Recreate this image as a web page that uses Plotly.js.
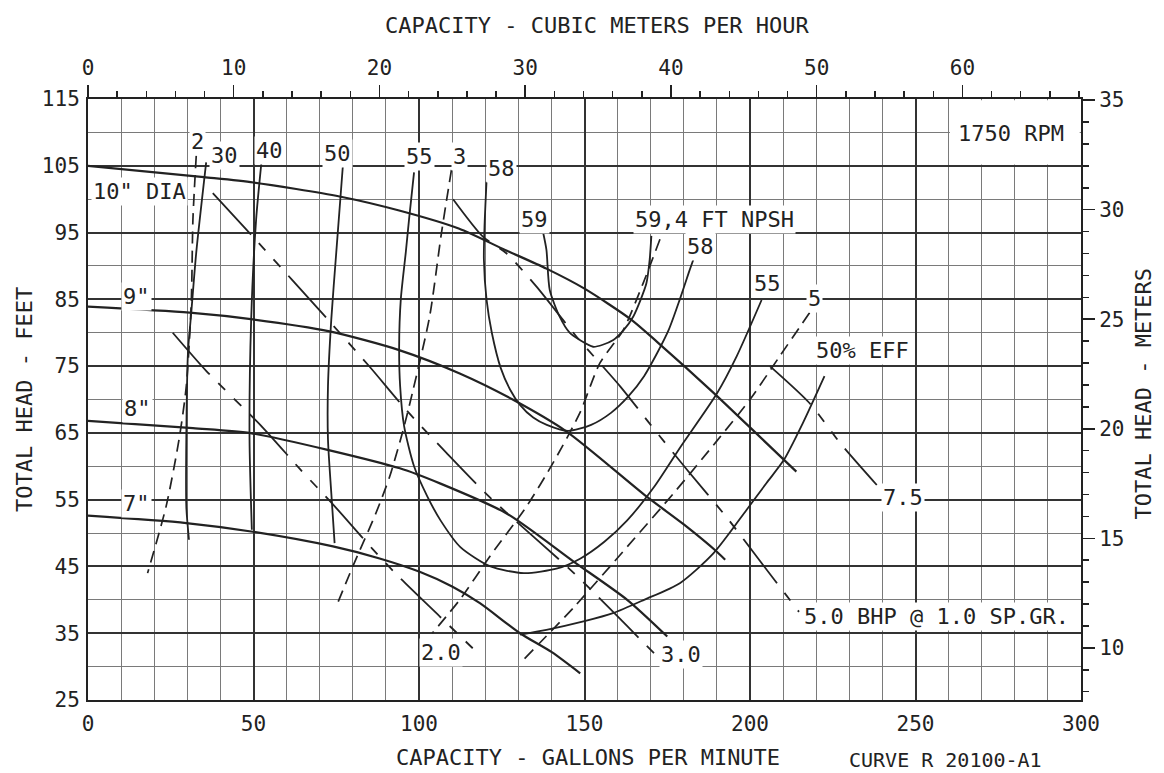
<!DOCTYPE html>
<html>
<head>
<meta charset="utf-8">
<script src="https://cdn.plot.ly/plotly-3.0.1.min.js"></script>
<style>
html,body{margin:0;padding:0;background:#ffffff;}
#chart{width:1164px;height:773px;}
</style>
</head>
<body>
<div id="chart"></div>
<script>
// ---------------- data ----------------
const GPM_TO_M3H = 0.22712;   // 1 US gpm in m3/h
const FT_TO_M = 0.3048;

// Head-capacity curves (impeller diameter)
const dia10_gpm = [0, 35, 50, 76, 94, 112, 126, 138.5, 150, 164, 172, 189, 203, 214];
const dia10_ft  = [105, 103.3, 102.5, 100.4, 98.3, 95.6, 92.4, 89.6, 86.6, 82, 78.6, 71, 64.4, 59.2];
const dia9_gpm  = [0, 30.7, 49.8, 73, 94, 112.3, 128.3, 144.6, 168.7, 180, 190, 192.5];
const dia9_ft   = [83.9, 83, 82, 80.2, 77.4, 73.9, 70, 65.2, 55.5, 51.3, 47.2, 46];
const dia8_gpm  = [0, 31.7, 49.8, 94.2, 106.5, 126.6, 146.8, 162.9, 175];
const dia8_ft   = [66.8, 65.7, 64.9, 59.7, 57.4, 52.9, 45.7, 40, 34.5];
const dia7_gpm  = [0, 29.7, 49.8, 74, 88.1, 100.2, 110, 118.4, 130.5, 140, 148.7];
const dia7_ft   = [52.6, 51.5, 50.2, 48, 46.2, 44.2, 42, 39.5, 35, 32.2, 29];

// Efficiency curves (%)
const eff30_gpm = [35.7, 32.7, 31.2, 30.2, 29.7, 29.7, 30.5];
const eff30_ft  = [105.5, 92, 83, 77, 64, 54, 49];
const eff40_gpm = [52.4, 50.8, 49.3, 48.8, 49.5];
const eff40_ft  = [105.5, 97, 82, 64, 50.5];
const eff50_gpm = [77, 75, 73.5, 72.5, 72.5, 73.5, 74.5];
const eff50_ft  = [105, 92, 82, 72, 64, 56, 48.5];
const eff55_gpm = [98.5, 97, 96, 94.5, 94, 94.3, 95.5, 98.5, 102.5, 106.5, 112.5, 121.6, 131.7, 141.8, 148.8, 156, 162.9, 171, 179, 190, 196, 203.5];
const eff55_ft  = [104, 97, 92, 85, 78, 72, 66, 60, 55.5, 51.9, 47.9, 45, 44, 44.7, 46.2, 48.7, 51.9, 56.9, 62.9, 70.9, 76.5, 84.9];
const eff58_gpm = [120.4, 119.8, 119.6, 120.4, 122, 124.7, 127.5, 130.5, 134.5, 138.6, 145, 152, 158, 163.3, 168, 172, 175.5, 178.8, 181.5, 184];
const eff58_ft  = [102.6, 96, 91, 85, 80, 74.7, 71.5, 69.2, 67.3, 66.2, 65.3, 66.2, 68, 70.5, 73.5, 77, 80.5, 85, 89, 92.5];
const eff59_gpm = [137.5, 138.5, 139.5, 142.5, 145.5, 148.6, 152.6, 155.5, 158.7, 162, 164.7, 167, 168.7, 169.7, 170.2];
const eff59_ft  = [95, 92.4, 86.4, 82.4, 80, 78.9, 77.9, 78.2, 78.9, 80.5, 82.4, 85, 87.4, 91, 94.5];
const effLow50_gpm = [130.5, 138.5, 150, 158.6, 168, 178.8, 189, 199, 205, 210.3, 216, 222.5];
const effLow50_ft  = [34.8, 35.5, 36.8, 38, 40, 42.5, 47, 53.5, 57.5, 61, 66.5, 73.5];

// NPSH required (ft)
const npsh2_gpm = [32.7, 31.7, 31.2, 29.7, 27.5, 23.6, 18];
const npsh2_ft  = [106.5, 97, 84.5, 72, 64, 54, 44];
const npsh3_gpm = [109.8, 106.8, 103.2, 98.2, 95.2, 91.1, 87, 80, 75];
const npsh3_ft  = [104.4, 95, 82.4, 71.4, 65.4, 58.4, 53, 45, 39];
const npsh4_gpm = [172.8, 167.7, 161.7, 154.6, 148.6, 140.5, 132.5, 121.4, 112.3, 104];
const npsh4_ft  = [94, 87.4, 80.4, 75.4, 68, 60.5, 54, 46.5, 40, 35];
const npsh5_gpm = [218, 209, 200, 190, 177, 163, 147, 131.5];
const npsh5_ft  = [83, 76.5, 70, 63.8, 56, 48, 39, 31];

// Brake horsepower lines
const bhp2_gpm  = [25.6, 35.7, 52.8, 64, 74, 86, 94.2, 106.3, 117.8];
const bhp2_ft   = [80, 74.3, 65.8, 59.6, 54.3, 47.6, 43.3, 37.5, 32];
const bhp3_gpm  = [37.7, 49.8, 73.5, 85.1, 96.2, 108.3, 121.5, 146.8, 171];
const bhp3_ft   = [100.9, 94.4, 81.4, 74.9, 68.4, 62, 55.3, 44, 32];
const bhp5_gpm  = [110.3, 119.3, 126.4, 135.5, 147.6, 160.9, 170, 181.1, 193.2, 203.2, 214.8];
const bhp5_ft   = [100, 94.4, 91.9, 86.9, 79.4, 71.9, 66.2, 59.4, 52.2, 45.7, 38.2];
const bhp75_gpm = [206, 218.1, 227.2, 238.3];
const bhp75_ft  = [75, 69.4, 63.5, 57.2];

// Axis tick values
const gpmTicks = [0, 50, 100, 150, 200, 250, 300];
const ftTicks  = [25, 35, 45, 55, 65, 75, 85, 95, 105, 115];
const m3hTicks = [0, 10, 20, 30, 40, 50, 60];
const mTicks   = [10, 15, 20, 25, 30, 35];

// ---------------- styling ----------------
const FONT = "'DejaVu Sans Mono','Liberation Mono',monospace";
const INK = '#222222';
const NPSH_DASH = '12px,7px';
const BHP_DASH = '56px,12px,10px,12px,10px,12px';

function curve(x, y, w, dash, xa, ya) {
  return {
    x: x, y: y, type: 'scatter', mode: 'lines',
    xaxis: xa || 'x', yaxis: ya || 'y',
    line: {color: INK, width: w, dash: dash || 'solid', shape: 'spline', smoothing: 0.7},
    hoverinfo: 'skip', showlegend: false
  };
}

const traces = [
  // 10" curve drawn on the metric axes (converted units) so both unit axes are live
  curve(dia10_gpm.map(v => v * GPM_TO_M3H), dia10_ft.map(v => v * FT_TO_M), 2.2, 'solid', 'x2', 'y2'),
  curve(dia9_gpm, dia9_ft, 2.2),
  curve(dia8_gpm, dia8_ft, 2.2),
  curve(dia7_gpm, dia7_ft, 2.2),
  curve(eff30_gpm, eff30_ft, 1.8),
  curve(eff40_gpm, eff40_ft, 1.8),
  curve(eff50_gpm, eff50_ft, 1.8),
  curve(eff55_gpm, eff55_ft, 1.8),
  curve(eff58_gpm, eff58_ft, 1.8),
  curve(eff59_gpm, eff59_ft, 1.8),
  curve(effLow50_gpm, effLow50_ft, 1.8),
  curve(npsh2_gpm, npsh2_ft, 1.7, NPSH_DASH),
  curve(npsh3_gpm, npsh3_ft, 1.7, NPSH_DASH),
  curve(npsh4_gpm, npsh4_ft, 1.7, NPSH_DASH),
  curve(npsh5_gpm, npsh5_ft, 1.7, NPSH_DASH),
  curve(bhp2_gpm, bhp2_ft, 1.8, BHP_DASH),
  curve(bhp3_gpm, bhp3_ft, 1.8, BHP_DASH),
  curve(bhp5_gpm, bhp5_ft, 1.8, BHP_DASH),
  curve(bhp75_gpm, bhp75_ft, 1.8, BHP_DASH)
];

function lab(text, x, y, extra) {
  return Object.assign({
    text: text, x: x, y: y, xref: 'x', yref: 'y', showarrow: false,
    font: {family: FONT, size: 22, color: INK},
    bgcolor: '#ffffff', borderpad: 1, xanchor: 'center', yanchor: 'middle'
  }, extra || {});
}
function plab(text, x, y, extra) {
  return Object.assign({
    text: text, x: x, y: y, xref: 'paper', yref: 'paper', showarrow: false,
    font: {family: FONT, size: 22, color: INK}, xanchor: 'center', yanchor: 'middle'
  }, extra || {});
}

const annotations = [
  lab('10" DIA', 15.6, 101.2),
  lab('9"', 14.7, 85.4),
  lab('8"', 15.1, 68.7),
  lab('7"', 14.6, 54.4),
  lab('2', 33.1, 108.6),
  lab('30', 41.3, 106.6),
  lab('40', 54.9, 107.3),
  lab('50', 75.5, 106.9),
  lab('55', 100.2, 106.4),
  lab('3', 112.3, 106.4),
  lab('58', 124.9, 104.6),
  lab('59', 135, 96.9),
  lab('59,4 FT NPSH', 189.4, 96.9),
  lab('58', 185, 92.9),
  lab('55', 205.3, 87.3),
  lab('5', 219.6, 85.2),
  lab('50% EFF', 234.1, 77.3),
  lab('7.5', 246.1, 55.4),
  lab('5.0 BHP @ 1.0 SP.GR.', 256.4, 37.5),
  lab('3.0', 179.1, 31.8),
  lab('2.0', 106.6, 32.1),
  lab('1750 RPM', 279.0, 109.9, {bgcolor: 'rgba(0,0,0,0)'}),
  plab('CAPACITY - CUBIC METERS PER HOUR', 0.513, 1.123),
  plab('CAPACITY - GALLONS PER MINUTE', 0.504, -0.095),
  plab('CURVE R 20100-A1', 0.864, -0.10, {font: {family: FONT, size: 20, color: INK}}),
  plab('TOTAL HEAD - FEET', -0.064, 0.5, {textangle: -90}),
  plab('TOTAL HEAD - METERS', 1.0625, 0.51, {textangle: -90})
];

const tickFont = {family: FONT, size: 21, color: INK};

const layout = {
  width: 1164, height: 773,
  margin: {l: 88, r: 83, t: 99, b: 73, pad: 0},
  paper_bgcolor: '#ffffff', plot_bgcolor: '#ffffff',
  showlegend: false, hovermode: false,
  font: {family: FONT, color: INK},
  xaxis: {
    range: [0, 300], tickmode: 'array', tickvals: gpmTicks, ticktext: gpmTicks.map(String),
    showgrid: true, gridcolor: '#333333', gridwidth: 2,
    minor: {dtick: 10, tick0: 0, showgrid: true, gridcolor: '#7a7a7a', gridwidth: 1, ticks: ''},
    showline: true, linecolor: INK, linewidth: 2, zeroline: false,
    ticks: '', ticklabelstandoff: 4, tickfont: tickFont, fixedrange: true
  },
  yaxis: {
    range: [25, 115], tickmode: 'array', tickvals: ftTicks, ticktext: ftTicks.map(String),
    showgrid: true, gridcolor: '#333333', gridwidth: 2,
    minor: {dtick: 5, tick0: 25, showgrid: true, gridcolor: '#7a7a7a', gridwidth: 1, ticks: ''},
    showline: true, linecolor: INK, linewidth: 2, zeroline: false,
    ticks: '', ticklabelstandoff: 2, tickfont: tickFont, fixedrange: true
  },
  xaxis2: {
    overlaying: 'x', side: 'top', anchor: 'y',
    range: [0, 300 * GPM_TO_M3H], tickmode: 'array', tickvals: m3hTicks, ticktext: m3hTicks.map(String),
    ticks: 'outside', ticklen: 12, tickwidth: 1.5, tickcolor: INK,
    minor: {dtick: 2, tick0: 0, ticks: 'outside', ticklen: 6, tickwidth: 1.5, tickcolor: INK, showgrid: false},
    showgrid: false, showline: true, linecolor: INK, linewidth: 2, zeroline: false,
    ticklabelstandoff: 2, tickfont: tickFont, fixedrange: true
  },
  yaxis2: {
    overlaying: 'y', side: 'right', anchor: 'x',
    range: [25 * FT_TO_M, 115 * FT_TO_M], tickmode: 'array', tickvals: mTicks, ticktext: mTicks.map(String),
    ticks: 'outside', ticklen: 12, tickwidth: 1.5, tickcolor: INK,
    minor: {dtick: 1, tick0: 0, ticks: 'outside', ticklen: 6, tickwidth: 1.5, tickcolor: INK, showgrid: false},
    showgrid: false, showline: true, linecolor: INK, linewidth: 2, zeroline: false,
    ticklabelstandoff: 0, tickfont: tickFont, fixedrange: true
  },
  shapes: [
    {type: 'rect', layer: 'between', xref: 'x', yref: 'y', x0: 260.4, x1: 299.6, y0: 105.2, y1: 114.8,
     fillcolor: '#ffffff', line: {width: 0}}
  ],
  annotations: annotations
};

Plotly.newPlot('chart', traces, layout, {staticPlot: true, displayModeBar: false});
</script>
</body>
</html>
